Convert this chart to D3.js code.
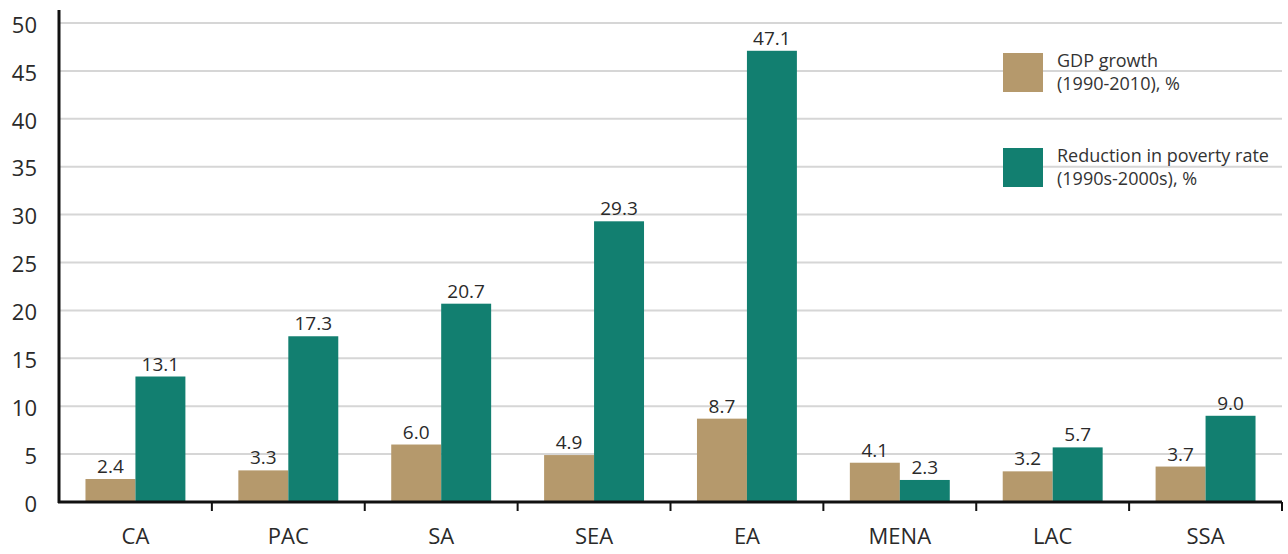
<!DOCTYPE html>
<html>
<head>
<meta charset="utf-8">
<script src="https://cdn.jsdelivr.net/npm/d3@7"></script>
<style>
  html, body { margin: 0; padding: 0; background: #fff; }
  svg { display: block; font-family: "Open Sans", sans-serif; }
</style>
</head>
<body>
<div id="chart"></div>
<script>
var regions = ['CA', 'PAC', 'SA', 'SEA', 'EA', 'MENA', 'LAC', 'SSA'];
var gdpGrowth = [2.4, 3.3, 6.0, 4.9, 8.7, 4.1, 3.2, 3.7];
var povertyReduction = [13.1, 17.3, 20.7, 29.3, 47.1, 2.3, 5.7, 9.0];
var yTicks = [0, 5, 10, 15, 20, 25, 30, 35, 40, 45, 50];
var seriesNames = ['GDP growth|(1990-2010), %', 'Reduction in poverty rate|(1990s-2000s), %'];
var seriesColors = ['#b5996c', '#127f70'];

var width = 1288, height = 554;
var mLeft = 59, mRight = 1282, mTop = 23, mBottom = 502;

var svg = d3.select('#chart')
    .append('svg')
    .attr('width', width)
    .attr('height', height);

var x = d3.scaleBand()
    .domain(regions)
    .range([mLeft, mRight])
    .paddingInner(0)
    .paddingOuter(0);

var inner = d3.scaleBand()
    .domain([0, 1])
    .range([0, x.bandwidth()])
    .paddingOuter(0.53)
    .paddingInner(0);

var y = d3.scaleLinear()
    .domain([0, 50])
    .range([mBottom, mTop]);

// gridlines
svg.append('g')
    .selectAll('line')
    .data(yTicks.slice(1))
    .enter().append('line')
    .attr('x1', mLeft)
    .attr('x2', mRight)
    .attr('y1', function(d) { return y(d); })
    .attr('y2', function(d) { return y(d); })
    .attr('stroke', '#d6d6d6')
    .attr('stroke-width', 2);

// bars
var rows = regions.map(function(r, i) {
	return { region: r, vals: [gdpGrowth[i], povertyReduction[i]] };
});

var groups = svg.append('g')
    .selectAll('g')
    .data(rows)
    .enter().append('g')
    .attr('transform', function(d) { return 'translate(' + x(d.region) + ',0)'; });

groups.selectAll('rect')
    .data(function(d) { return d.vals; })
    .enter().append('rect')
    .attr('x', function(d, i) { return inner(i); })
    .attr('width', inner.bandwidth())
    .attr('y', function(d) { return y(d); })
    .attr('height', function(d) { return mBottom - y(d); })
    .attr('fill', function(d, i) { return seriesColors[i]; });

groups.selectAll('text')
    .data(function(d) { return d.vals; })
    .enter().append('text')
    .attr('x', function(d, i) { return inner(i) + inner.bandwidth() / 2; })
    .attr('y', function(d) { return y(d) - 6; })
    .attr('text-anchor', 'middle')
    .attr('font-size', 19)
    .attr('fill', '#2a2a2a')
    .text(function(d) { return d.toFixed(1); });

// y axis
var yAxis = svg.append('g')
    .attr('transform', 'translate(' + mLeft + ',0)')
    .call(d3.axisLeft(y).tickValues(yTicks).tickSize(0).tickPadding(22));
yAxis.select('.domain').remove();
yAxis.selectAll('text')
    .attr('font-size', 22)
    .attr('font-family', '"Open Sans", sans-serif')
    .attr('dy', '0.42em')
    .attr('fill', '#2a2a2a');
svg.append('line')
    .attr('x1', mLeft).attr('x2', mLeft)
    .attr('y1', 10).attr('y2', mBottom + 1)
    .attr('stroke', '#111')
    .attr('stroke-width', 3);

// x axis
var xAxis = svg.append('g')
    .attr('transform', 'translate(0,' + mBottom + ')')
    .call(d3.axisBottom(x).tickSize(0).tickPadding(26));
xAxis.select('.domain').remove();
xAxis.selectAll('text')
    .attr('font-size', 22)
    .attr('font-family', '"Open Sans", sans-serif')
    .attr('fill', '#2a2a2a');
svg.append('g')
    .selectAll('line')
    .data(regions.slice(1).map(function(r) { return x(r); }).concat([mRight]))
    .enter().append('line')
    .attr('x1', function(d) { return d; })
    .attr('x2', function(d) { return d; })
    .attr('y1', mBottom)
    .attr('y2', mBottom + 9)
    .attr('stroke', '#111')
    .attr('stroke-width', 2);
svg.append('line')
    .attr('x1', mLeft - 1).attr('x2', mRight)
    .attr('y1', mBottom).attr('y2', mBottom)
    .attr('stroke', '#111')
    .attr('stroke-width', 3);

// legend
var legend = svg.append('g')
    .selectAll('g')
    .data(seriesNames)
    .enter().append('g')
    .attr('transform', function(d, i) { return 'translate(1003,' + (53 + i * 95) + ')'; });

legend.append('rect')
    .attr('width', 40)
    .attr('height', 39)
    .attr('fill', function(d, i) { return seriesColors[i]; });

legend.append('text')
    .attr('font-size', 18)
    .attr('fill', '#333')
    .selectAll('tspan')
    .data(function(d) { return d.split('|'); })
    .enter().append('tspan')
    .attr('x', 54)
    .attr('y', function(d, i) { return 14 + i * 23; })
    .text(function(d) { return d; });
</script>
</body>
</html>
